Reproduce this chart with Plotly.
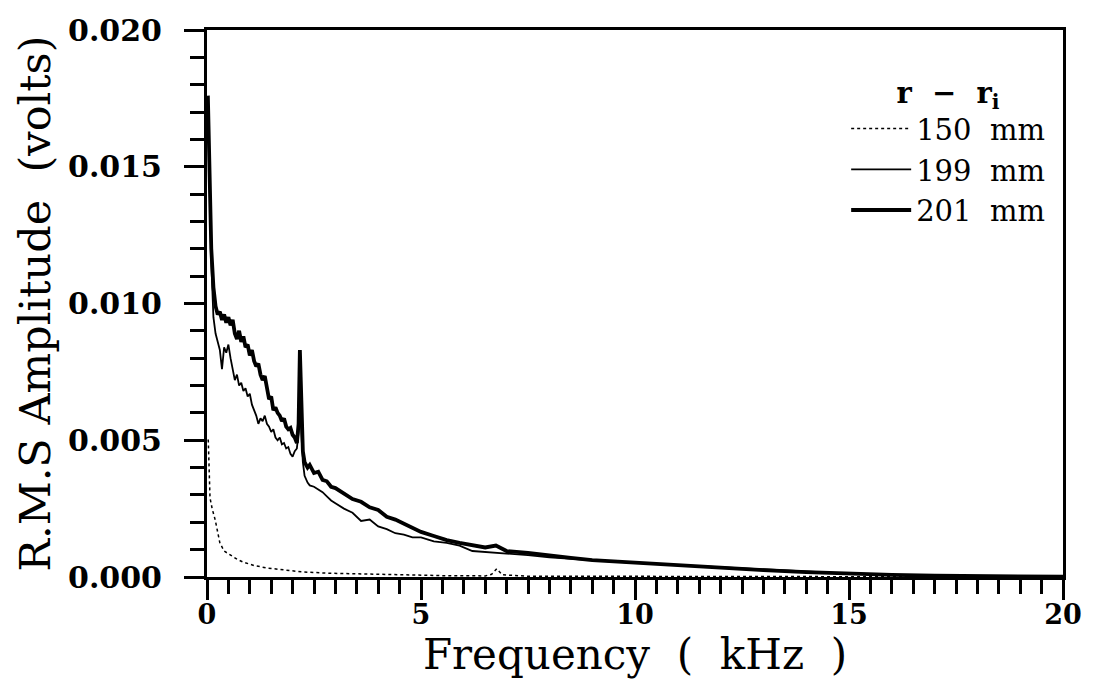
import plotly.graph_objects as go

# ---- data (kHz, volts) ----
f_201 = [0.02, 0.06, 0.1, 0.15, 0.2, 0.25, 0.3, 0.35, 0.4, 0.45, 0.5, 0.55, 0.6, 0.65, 0.7, 0.75,
         0.8, 0.85, 0.9, 0.95, 1.0, 1.05, 1.1, 1.15, 1.2, 1.25, 1.3, 1.35, 1.4, 1.45, 1.5, 1.55,
         1.6, 1.65, 1.7, 1.75, 1.8, 1.85, 1.9, 1.95, 2.0, 2.05, 2.1, 2.14, 2.17, 2.2, 2.24, 2.28,
         2.35, 2.4, 2.5, 2.6, 2.7, 2.8, 2.9, 3.0, 3.2, 3.4, 3.6, 3.8, 4.0, 4.2, 4.4, 4.6, 4.8,
         5.0, 5.3, 5.6, 5.9, 6.2, 6.5, 6.75, 7.0, 7.5, 8.0, 8.5, 9.0, 9.5, 10, 11, 12, 13, 14,
         15, 16, 17, 18, 19, 20]
v_201_mV = [17.6, 15.0, 12.0, 10.6, 9.9, 9.6, 9.7, 9.4, 9.6, 9.3, 9.5, 9.2, 9.4, 8.9, 8.7, 9.0,
            8.6, 8.8, 8.4, 8.5, 8.1, 8.3, 7.9, 7.7, 7.8, 7.4, 7.2, 7.35, 6.9, 6.5, 6.6, 6.1,
            6.2, 6.0, 5.9, 5.7, 5.8, 5.5, 5.4, 5.45, 5.2, 5.1, 4.9, 5.6, 8.3, 6.0, 4.6, 4.2,
            4.0, 4.1, 3.8, 3.85, 3.55, 3.5, 3.3, 3.25, 3.05, 2.85, 2.75, 2.55, 2.45, 2.2, 2.1, 1.95, 1.8,
            1.65, 1.5, 1.35, 1.25, 1.15, 1.08, 1.15, 0.95, 0.88, 0.78, 0.7, 0.62, 0.57, 0.52, 0.42, 0.33, 0.25, 0.18,
            0.12, 0.08, 0.05, 0.03, 0.02, 0.01]

f_199 = f_201
v_199_mV = [17.3, 14.0, 11.5, 9.5, 8.9, 8.6, 8.3, 7.6, 8.4, 8.2, 8.5, 8.0, 7.6, 7.2, 7.4, 7.0,
            7.1, 6.8, 6.9, 6.6, 6.7, 6.3, 6.1, 5.9, 5.6, 5.8, 5.7, 5.9, 5.6, 5.5, 5.3, 5.4,
            5.1, 5.0, 5.1, 4.85, 4.9, 4.7, 4.75, 4.5, 4.4, 4.6, 4.7, 5.3, 7.5, 5.4, 4.2, 3.7,
            3.45, 3.35, 3.3, 3.2, 3.1, 2.95, 2.8, 2.7, 2.5, 2.35, 2.05, 2.1, 1.85, 1.75, 1.6, 1.55, 1.45,
            1.45, 1.3, 1.25, 1.15, 0.95, 0.92, 0.9, 0.85, 0.8, 0.72, 0.66, 0.6, 0.56, 0.52, 0.44, 0.35, 0.26, 0.18,
            0.12, 0.08, 0.05, 0.03, 0.02, 0.01]

f_150 = [0.01, 0.03, 0.07, 0.12, 0.19, 0.3, 0.4, 0.54, 0.7, 0.84, 1.1, 1.4, 1.8, 2.2, 2.8, 3.5,
         4.5, 5.5, 6.5, 6.65, 6.77, 6.9, 7.5, 10, 15, 20]
v_150_mV = [5.0, 5.0, 2.9, 2.5, 2.1, 1.25, 0.95, 0.8, 0.65, 0.55, 0.42, 0.33, 0.25, 0.19, 0.14, 0.11,
            0.07, 0.05, 0.04, 0.1, 0.3, 0.08, 0.03, 0.02, 0.01, 0.0]

x_ticks = [0, 5, 10, 15, 20]
x_tick_labels = ["0", "5", "10", "15", "20"]
y_ticks = [0.0, 0.005, 0.010, 0.015, 0.020]
y_tick_labels = ["0.000", "0.005", "0.010", "0.015", "0.020"]

series = [
    ("150  mm", f_150, v_150_mV, dict(color="black", width=1.5, dash="dot")),
    ("199  mm", f_199, v_199_mV, dict(color="black", width=1.8)),
    ("201  mm", f_201, v_201_mV, dict(color="black", width=3.8)),
]

fig = go.Figure()
for name, fx, vy, line in series:
    fig.add_trace(go.Scatter(x=fx, y=[v / 1000.0 for v in vy], mode="lines", name=name, line=line))

serif = "DejaVu Serif"
fig.update_layout(
    width=1099, height=685,
    margin=dict(l=207, r=36, t=22, b=108),
    paper_bgcolor="white", plot_bgcolor="white",
    font=dict(family=serif, color="black"),
    showlegend=True,
    legend=dict(
        x=0.985, y=0.935, xanchor="right", yanchor="top",
        bgcolor="rgba(0,0,0,0)",
        font=dict(family=serif, size=29, color="black"),
        title=dict(text="<b>r  \u2212  r<sub>i</sub></b>", side="top center",
                   font=dict(family=serif, size=29, color="black")),
        tracegroupgap=0, itemwidth=60,
    ),
    xaxis=dict(
        range=[0, 20], tickmode="array", tickvals=x_ticks, ticktext=x_tick_labels,
        ticks="outside", ticklen=20, tickwidth=3, tickcolor="black",
        showline=True, linewidth=3, linecolor="black", mirror=True,
        showgrid=False, zeroline=False, ticklabelstandoff=-8,
        tickfont=dict(family=serif, size=27, color="black", weight="bold"),
        minor=dict(dtick=0.5, ticks="outside", ticklen=14, tickwidth=3, tickcolor="black", showgrid=False),
        title=dict(text="Frequency  (  kHz  )", font=dict(family=serif, size=42, color="black"), standoff=0),
    ),
    yaxis=dict(
        range=[0, 0.020], tickmode="array", tickvals=y_ticks, ticktext=y_tick_labels,
        ticks="outside", ticklen=20, tickwidth=3, tickcolor="black",
        showline=True, linewidth=3, linecolor="black", mirror=True,
        showgrid=False, zeroline=False, ticklabelstandoff=16,
        tickfont=dict(family=serif, size=30, color="black", weight="bold"),
        minor=dict(dtick=0.001, ticks="outside", ticklen=14, tickwidth=3, tickcolor="black", showgrid=False),
        title=dict(text="R.M.S Amplitude  (volts)", font=dict(family=serif, size=43, color="black"), standoff=4),
    ),
)

fig.write_html("out.html")
